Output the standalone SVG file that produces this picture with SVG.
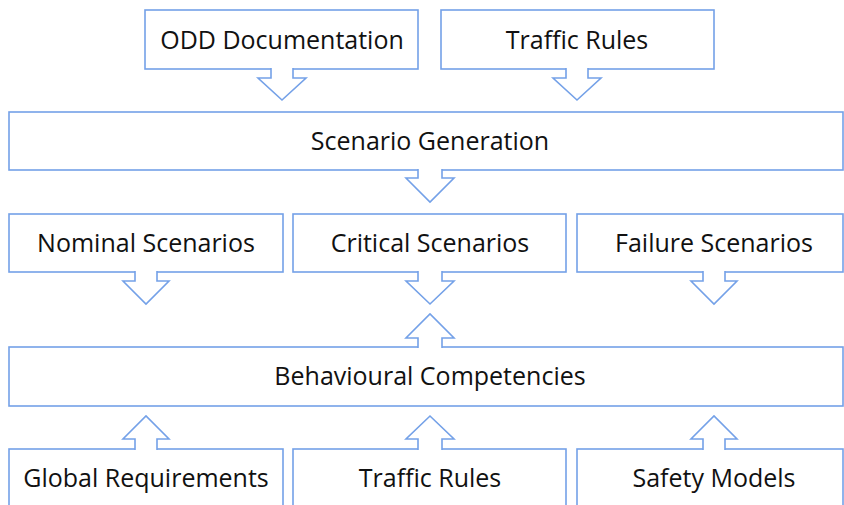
<svg xmlns="http://www.w3.org/2000/svg" width="844" height="505" viewBox="0 0 844 505">
  <style>
    .box { fill: #ffffff; stroke: #74a1e8; stroke-width: 1.6; }
    .arrow { fill: #ffffff; stroke: #74a1e8; stroke-width: 1.6; stroke-linejoin: miter; }
    .label { font-family: "Open Sans", "Liberation Sans", sans-serif; font-size: 25px; fill: #111111; text-anchor: middle; }
  </style>
  <rect width="844" height="505" fill="#ffffff"/>

  <!-- top sources -->
  <g id="odd-documentation">
    <rect class="box" x="145" y="10" width="273" height="59"/>
    <text class="label" x="282" y="48.5">ODD Documentation</text>
  </g>
  <g id="traffic-rules-top">
    <rect class="box" x="441" y="10" width="273" height="59"/>
    <text class="label" x="577" y="48.5">Traffic Rules</text>
  </g>

  <g id="scenario-generation">
    <rect class="box" x="9" y="112" width="834" height="58"/>
    <text class="label" x="430" y="150">Scenario Generation</text>
  </g>

  <!-- scenario classes -->
  <g id="nominal-scenarios">
    <rect class="box" x="9" y="214" width="274" height="58"/>
    <text class="label" x="146" y="252">Nominal Scenarios</text>
  </g>
  <g id="critical-scenarios">
    <rect class="box" x="293" y="214" width="273" height="58"/>
    <text class="label" x="430" y="252">Critical Scenarios</text>
  </g>
  <g id="failure-scenarios">
    <rect class="box" x="577" y="214" width="266" height="58"/>
    <text class="label" x="714" y="252">Failure Scenarios</text>
  </g>

  <g id="behavioural-competencies">
    <rect class="box" x="9" y="347" width="834" height="59"/>
    <text class="label" x="430" y="385">Behavioural Competencies</text>
  </g>

  <!-- bottom inputs -->
  <g id="global-requirements">
    <rect class="box" x="9" y="449" width="274" height="60"/>
    <text class="label" x="146" y="487">Global Requirements</text>
  </g>
  <g id="traffic-rules-bottom">
    <rect class="box" x="293" y="449" width="273" height="60"/>
    <text class="label" x="430" y="487">Traffic Rules</text>
  </g>
  <g id="safety-models">
    <rect class="box" x="577" y="449" width="266" height="60"/>
    <text class="label" x="714" y="487">Safety Models</text>
  </g>

  <!-- block arrows, each opening out of its box edge -->
  <g id="connectors">
    <path class="arrow" d="M271,68 V78 H258 L282,100 L306,78 H293 V68"/>
    <path class="arrow" d="M566,68 V78 H553 L577,100 L601,78 H588 V68"/>
    <path class="arrow" d="M418,169 V178 H406 L430,202 L454,178 H442 V169"/>
    <path class="arrow" d="M135,271 V281 H123 L146,304 L169,281 H157 V271"/>
    <path class="arrow" d="M418,271 V281 H406 L430,304 L454,281 H442 V271"/>
    <path class="arrow" d="M703,271 V281 H691 L714,304 L737,281 H725 V271"/>
    <path class="arrow" d="M418,348 V338 H406 L430,314 L454,338 H442 V348"/>
    <path class="arrow" d="M135,450 V439 H123 L146,416 L169,439 H157 V450"/>
    <path class="arrow" d="M418,450 V439 H406 L430,416 L454,439 H442 V450"/>
    <path class="arrow" d="M703,450 V439 H691 L714,416 L737,439 H725 V450"/>
  </g>
</svg>
